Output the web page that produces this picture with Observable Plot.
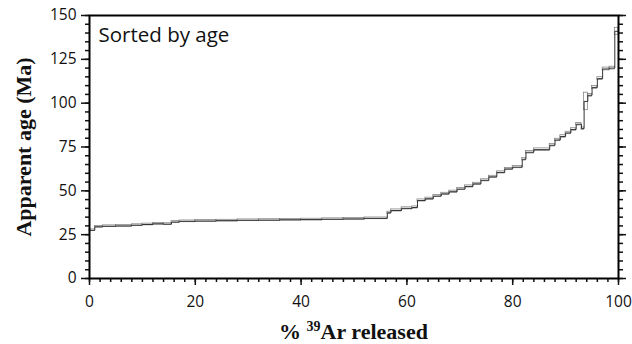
<!DOCTYPE html>
<html>
<head>
<meta charset="utf-8">
<script src="https://cdn.jsdelivr.net/npm/d3@7"></script>
<script src="https://cdn.jsdelivr.net/npm/@observablehq/plot@0.6"></script>
<style>
  html, body { margin: 0; padding: 0; background: #fff; }
  #chart { width: 632px; height: 344px; }
</style>
</head>
<body>
<div id="chart"></div>
<script>
// Cumulative % 39Ar released at step boundaries
const stepEdges = [0, 1.0, 2.5, 5, 8, 10, 12, 14, 15.5, 17, 20, 24, 28, 32, 36, 40, 44, 48, 52, 56.3,
  57, 59, 61, 62, 63.5, 65, 66.5, 68, 69.5, 71, 72.5, 74, 75.5, 77, 78.5, 80, 81.8, 82.5, 84, 87,
  88, 89, 90, 91, 92, 93, 93.5, 94.2, 95, 96, 97, 98.3, 99.3, 100];
// Apparent age (Ma) of each step, sorted by age
const stepAges = [27.5, 29.5, 29.8, 30.0, 30.4, 30.8, 31.2, 31.0, 32.2, 32.6,
  32.8, 33.0, 33.2, 33.3, 33.5, 33.6, 33.8, 34.0, 34.3, 37.5,
  38.8, 40.0, 40.5, 44.5, 45.5, 47.0, 48.3, 49.5, 51.0, 52.5,
  54.0, 56.0, 58.0, 60.5, 62.5, 63.5, 68.0, 72.0, 73.5, 76.0,
  79.0, 81.0, 83.0, 85.0, 88.0, 85.5, 101.0, 104.5, 109.0, 114.0,
  119.5, 120.0, 141.0];
// Error half-widths (Ma)
const stepErrors = [0.5, 0.5, 0.5, 0.5, 0.5, 0.5, 0.5, 0.5, 0.5, 0.5,
  0.5, 0.5, 0.5, 0.5, 0.5, 0.5, 0.5, 0.5, 0.5, 0.6,
  0.6, 0.6, 0.6, 0.6, 0.6, 0.6, 0.6, 0.6, 0.6, 0.6,
  0.6, 0.6, 0.6, 0.6, 0.6, 0.6, 0.7, 0.7, 0.7, 0.7,
  0.7, 0.7, 0.7, 0.7, 0.7, 0.7, 5.0, 0.8, 0.8, 0.8,
  0.8, 0.8, 2.0];

const yMajor = [0, 25, 50, 75, 100, 125, 150];
const yMinor = d3.range(0, 151, 5);
const xMajor = [0, 20, 40, 60, 80, 100];
const xMinor = d3.range(0, 101, 2);

const boxes = stepAges.map((a, i) => ({x1: stepEdges[i], x2: stepEdges[i + 1], y1: a - stepErrors[i], y2: a + stepErrors[i]}));
const linePts = stepAges.map((a, i) => ({x: stepEdges[i], y: a}));
linePts.push({x: stepEdges[stepEdges.length - 1], y: stepAges[stepAges.length - 1]});

const tickFont = "'Open Sans', sans-serif";
const serif = "'Liberation Serif', 'Times New Roman', serif";

const chart = Plot.plot({
  width: 632,
  height: 344,
  marginLeft: 89,
  marginRight: 14,
  marginTop: 15,
  marginBottom: 66,
  style: {fontFamily: tickFont, fontSize: "15px", color: "#111", background: "#fff"},
  x: {domain: [0, 100]},
  y: {domain: [0, 150]},
  marks: [
    Plot.rect(boxes, {x1: "x1", x2: "x2", y1: "y1", y2: "y2", fill: "none", stroke: "#777", strokeWidth: 0.7}),
    Plot.line(linePts, {x: "x", y: "y", curve: "step-after", stroke: "#333", strokeWidth: 1}),
    Plot.axisY(yMinor, {anchor: "left", tickSize: 4, tickFormat: () => "", label: null, strokeWidth: 1.5}),
    Plot.axisY(yMajor, {anchor: "left", tickSize: 8, tickPadding: 5, label: null, strokeWidth: 1.5, fontSize: 15.5}),
    Plot.axisY(yMinor, {anchor: "right", tickSize: 4, tickFormat: () => "", label: null, strokeWidth: 1.5}),
    Plot.axisY(yMajor, {anchor: "right", tickSize: 7, tickFormat: () => "", label: null, strokeWidth: 1.5}),
    Plot.axisX(xMinor, {anchor: "bottom", tickSize: 4, tickFormat: () => "", label: null, strokeWidth: 1.5}),
    Plot.axisX(xMajor, {anchor: "bottom", tickSize: 7, tickPadding: 10, label: null, strokeWidth: 1.5, fontSize: 15.5}),
    Plot.frame({stroke: "#000", strokeWidth: 2}),
    Plot.text(["Sorted by age"], {frameAnchor: "top-left", dx: 9, dy: 12, fontSize: 20.5, fontFamily: tickFont, fill: "#111", textAnchor: "start"}),
    Plot.text(["Apparent age (Ma)"], {frameAnchor: "left", dx: -66, rotate: -90, textAnchor: "middle", fontSize: 22, fontWeight: "bold", fontFamily: serif, fill: "#111"})
  ]
});

// x-axis title with superscript
const svg = d3.select(chart);
const t = svg.append("text")
  .attr("x", (89 + 618) / 2)
  .attr("y", 339)
  .attr("text-anchor", "middle")
  .attr("font-family", serif)
  .attr("font-weight", "bold")
  .attr("font-size", 22)
  .attr("fill", "#111");
t.append("tspan").text("% ");
t.append("tspan").attr("font-size", 14).attr("dy", -8).text("39");
t.append("tspan").attr("dy", 8).text("Ar released");

document.getElementById("chart").appendChild(chart);
</script>
</body>
</html>
